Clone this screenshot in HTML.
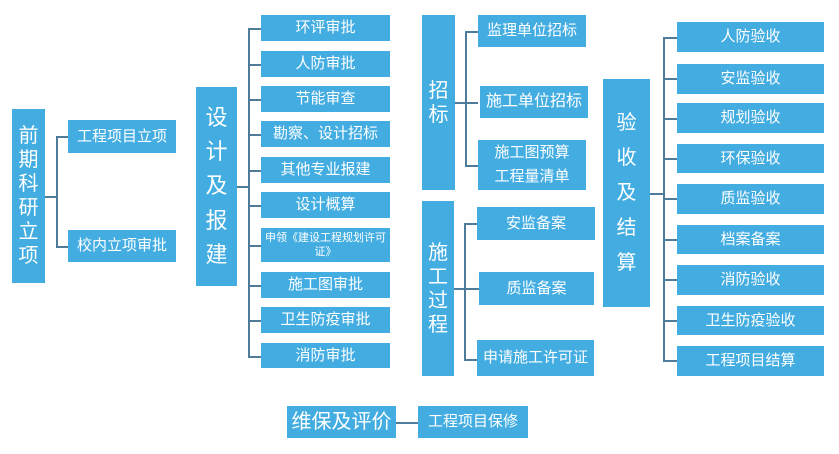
<!DOCTYPE html>
<html><head><meta charset="utf-8"><style>
body{margin:0;width:839px;height:454px;background:#fff;position:relative;overflow:hidden;font-family:"Liberation Sans","Noto Sans CJK SC",sans-serif}
.b{position:absolute;background:#43ade2;color:#fff;display:flex;align-items:center;justify-content:center;text-align:center;font-size:15px;line-height:1.2}
.v{flex-direction:column;font-size:20px;line-height:1.2}
.l{position:absolute;background:#4f7c99}
.h{height:1.5px}.w{width:1.5px}
</style></head><body>
<!-- 前期 -->
<div class="b v" style="left:12px;top:109px;width:33px;height:174px;font-size:20px">前<br>期<br>科<br>研<br>立<br>项</div>
<div class="l h" style="left:45px;top:196px;width:12px"></div>
<div class="l w" style="left:56px;top:136px;height:111px"></div>
<div class="l h" style="left:56px;top:136px;width:12px"></div>
<div class="l h" style="left:56px;top:246px;width:12px"></div>
<div class="b" style="left:68px;top:120px;width:108px;height:33px">工程项目立项</div>
<div class="b" style="left:68px;top:230px;width:108px;height:32px">校内立项审批</div>
<!-- 设计 -->
<div class="b v" style="left:196px;top:87px;width:41px;height:199px;font-size:22px;line-height:1.55">设<br>计<br>及<br>报<br>建</div>
<div class="l h" style="left:237px;top:186px;width:12px;height:2px"></div>
<div class="l w" style="left:248px;top:28px;height:329px"></div>
<div class="l h" style="left:248px;top:28px;width:13px"></div>
<div class="l h" style="left:248px;top:64px;width:13px"></div>
<div class="l h" style="left:248px;top:99px;width:13px"></div>
<div class="l h" style="left:248px;top:134px;width:13px"></div>
<div class="l h" style="left:248px;top:170px;width:13px"></div>
<div class="l h" style="left:248px;top:205px;width:13px"></div>
<div class="l h" style="left:248px;top:245px;width:13px"></div>
<div class="l h" style="left:248px;top:285px;width:13px"></div>
<div class="l h" style="left:248px;top:320px;width:13px"></div>
<div class="l h" style="left:248px;top:356px;width:13px"></div>
<div class="b" style="left:261px;top:15px;width:129px;height:26px">环评审批</div>
<div class="b" style="left:261px;top:51px;width:129px;height:26px">人防审批</div>
<div class="b" style="left:261px;top:86px;width:129px;height:26px">节能审查</div>
<div class="b" style="left:261px;top:121px;width:129px;height:26px">勘察、设计招标</div>
<div class="b" style="left:261px;top:157px;width:129px;height:26px">其他专业报建</div>
<div class="b" style="left:261px;top:192px;width:129px;height:26px">设计概算</div>
<div class="b" style="left:261px;top:228px;width:129px;height:34px;font-size:11px;line-height:1.3">申领《建设工程规划许可<br>证》</div>
<div class="b" style="left:261px;top:272px;width:129px;height:26px">施工图审批</div>
<div class="b" style="left:261px;top:307px;width:129px;height:26px">卫生防疫审批</div>
<div class="b" style="left:261px;top:343px;width:129px;height:25px">消防审批</div>
<!-- 维保 -->
<div class="b" style="left:287px;top:406px;width:109px;height:32px;font-size:20px">维保及评价</div>
<div class="l h" style="left:396px;top:422px;width:22px"></div>
<div class="b" style="left:418px;top:406px;width:110px;height:32px">工程项目保修</div>
<!-- 招标 -->
<div class="b v" style="left:422px;top:15px;width:33px;height:175px">招<br>标</div>
<div class="l h" style="left:455px;top:102px;width:11px"></div>
<div class="l w" style="left:465px;top:31px;height:135px"></div>
<div class="l h" style="left:465px;top:31px;width:13px"></div>
<div class="l h" style="left:465px;top:102px;width:13px"></div>
<div class="l h" style="left:465px;top:165px;width:13px"></div>
<div class="b" style="left:478px;top:15px;width:108px;height:32px">监理单位招标</div>
<div class="b" style="left:480px;top:86px;width:108px;height:32px;font-size:16px">施工单位招标</div>
<div class="b" style="left:478px;top:140px;width:108px;height:50px;line-height:1.6">施工图预算<br>工程量清单</div>
<!-- 施工过程 -->
<div class="b v" style="left:422px;top:201px;width:32px;height:175px">施<br>工<br>过<br>程</div>
<div class="l h" style="left:454px;top:288px;width:11px"></div>
<div class="l w" style="left:464px;top:223px;height:137px"></div>
<div class="l h" style="left:464px;top:223px;width:13px"></div>
<div class="l h" style="left:464px;top:288px;width:15px"></div>
<div class="l h" style="left:464px;top:359px;width:13px"></div>
<div class="b" style="left:477px;top:207px;width:118px;height:33px">安监备案</div>
<div class="b" style="left:479px;top:272px;width:115px;height:33px">质监备案</div>
<div class="b" style="left:477px;top:340px;width:117px;height:36px">申请施工许可证</div>
<!-- 验收 -->
<div class="b v" style="left:603px;top:79px;width:47px;height:228px;font-size:20px;line-height:1.75">验<br>收<br>及<br>结<br>算</div>
<div class="l h" style="left:650px;top:193px;width:13px;height:2px"></div>
<div class="l w" style="left:663px;top:37px;height:324px"></div>
<div class="l h" style="left:663px;top:37px;width:14px"></div>
<div class="l h" style="left:663px;top:78px;width:14px"></div>
<div class="l h" style="left:663px;top:118px;width:14px"></div>
<div class="l h" style="left:663px;top:158px;width:14px"></div>
<div class="l h" style="left:663px;top:198px;width:14px"></div>
<div class="l h" style="left:663px;top:239px;width:14px"></div>
<div class="l h" style="left:663px;top:279px;width:14px"></div>
<div class="l h" style="left:663px;top:320px;width:14px"></div>
<div class="l h" style="left:663px;top:360px;width:14px"></div>
<div class="b" style="left:677px;top:22px;width:147px;height:30px">人防验收</div>
<div class="b" style="left:677px;top:64px;width:147px;height:30px">安监验收</div>
<div class="b" style="left:677px;top:103px;width:147px;height:30px">规划验收</div>
<div class="b" style="left:677px;top:144px;width:147px;height:29px">环保验收</div>
<div class="b" style="left:677px;top:184px;width:147px;height:30px">质监验收</div>
<div class="b" style="left:677px;top:225px;width:147px;height:29px">档案备案</div>
<div class="b" style="left:677px;top:265px;width:147px;height:30px">消防验收</div>
<div class="b" style="left:677px;top:306px;width:147px;height:29px">卫生防疫验收</div>
<div class="b" style="left:677px;top:346px;width:147px;height:30px">工程项目结算</div>
</body></html>
